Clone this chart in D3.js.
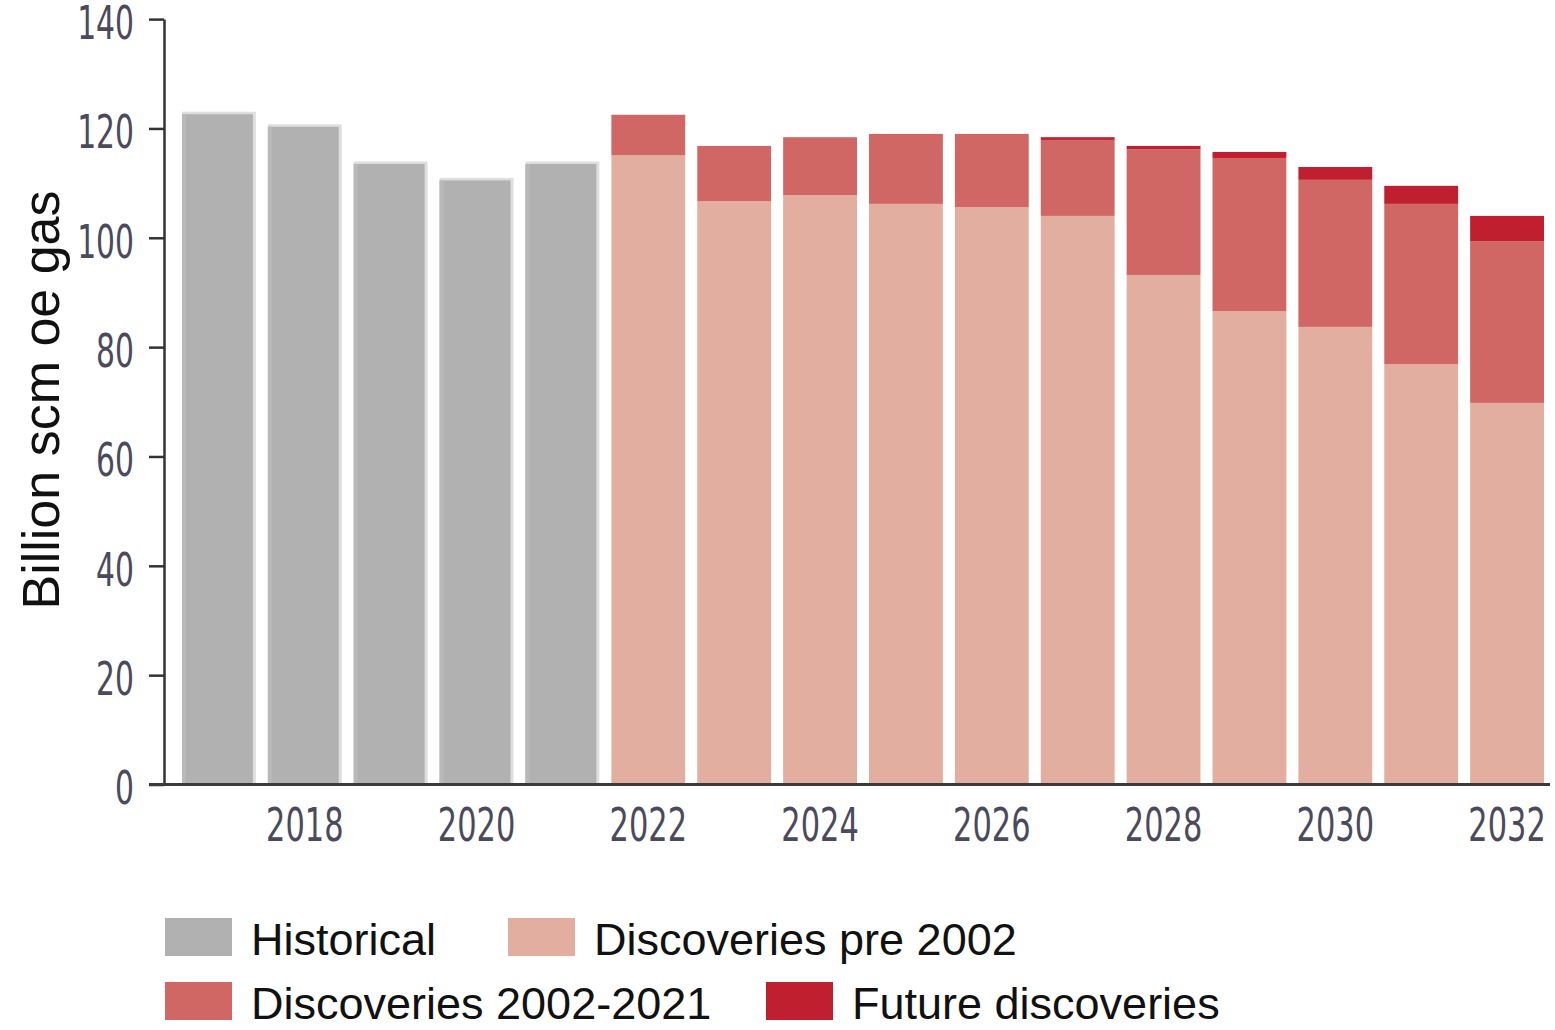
<!DOCTYPE html>
<html>
<head>
<meta charset="utf-8">
<script src="https://cdn.jsdelivr.net/npm/d3@7"></script>
<style>
  body { margin: 0; background: #fff; }
  svg { display: block; }
  .tick-label { font-family: "Liberation Sans Narrow", "DejaVu Sans Condensed", "Liberation Sans", sans-serif; fill: #4a4a5c; }
</style>
</head>
<body>
<div id="chart"></div>
<script>
// Historische Produktion (grau) und Prognose nach Fundzeitraum (gestapelt)
const histYears = [2017, 2018, 2019, 2020, 2021];
const histValues = [122.6, 120.3, 113.5, 110.5, 113.5];

const fcYears = [2022, 2023, 2024, 2025, 2026, 2027, 2028, 2029, 2030, 2031, 2032];
const prePre2002 = [115.1, 106.7, 107.8, 106.2, 105.6, 104.0, 93.2, 86.6, 83.7, 76.9, 69.8];
const disc2002to2021 = [7.4, 10.1, 10.6, 12.8, 13.4, 13.9, 23.0, 28.0, 26.9, 29.3, 29.6];
const futureDisc = [0, 0, 0, 0, 0, 0.5, 0.6, 1.1, 2.35, 3.3, 4.6];

const yTicks = [0, 20, 40, 60, 80, 100, 120, 140];
const xTickYears = [2018, 2020, 2022, 2024, 2026, 2028, 2030, 2032];

const seriesKeys = ["pre", "mid", "future"];
const seriesColors = { hist: "#b1b1b1", pre: "#e2aea0", mid: "#d06765", future: "#c01f30" };
const legendItems = [
  { key: "hist", label: "Historical" },
  { key: "pre", label: "Discoveries pre 2002" },
  { key: "mid", label: "Discoveries 2002-2021" },
  { key: "future", label: "Future discoveries" }
];

const W = 1555, H = 1030;
const AXIS_X = 164;
const ZERO_Y = 784.5;
const NARROW = 0.72;   // horizontale Stauchung der Achsenbeschriftung (Condensed-Look)

const svg = d3.select("#chart").append("svg")
  .attr("width", W)
  .attr("height", H)
  .attr("viewBox", `0 0 ${W} ${H}`);

const allYears = histYears.concat(fcYears);

const x = d3.scaleBand()
  .domain(allYears)
  .range([176, 1550])
  .paddingInner(0.14)
  .paddingOuter(0.07);

const y = d3.scaleLinear()
  .domain([0, 140])
  .range([ZERO_Y, 19.1]);

// Historische Balken mit hellem Rand oben/rechts
const histData = histYears.map((yr, i) => ({ year: yr, value: histValues[i] }));
const histG = svg.append("g");
histG.selectAll("rect.edge")
  .data(histData)
  .join("rect")
  .attr("class", "edge")
  .attr("x", d => x(d.year))
  .attr("y", d => y(d.value) - 2.5)
  .attr("width", x.bandwidth())
  .attr("height", d => ZERO_Y - y(d.value) + 2.5)
  .attr("fill", "#dedede");
histG.selectAll("rect.bar")
  .data(histData)
  .join("rect")
  .attr("class", "bar")
  .attr("x", d => x(d.year))
  .attr("y", d => y(d.value))
  .attr("width", x.bandwidth() - 3)
  .attr("height", d => ZERO_Y - y(d.value))
  .attr("fill", seriesColors.hist);
histG.selectAll("rect.left")
  .data(histData)
  .join("rect")
  .attr("class", "left")
  .attr("x", d => x(d.year))
  .attr("y", d => y(d.value))
  .attr("width", 4)
  .attr("height", d => ZERO_Y - y(d.value))
  .attr("fill", "#b9b9b9");

// Prognose, gestapelt
const fcTable = fcYears.map((yr, i) => ({
  year: yr, pre: prePre2002[i], mid: disc2002to2021[i], future: futureDisc[i]
}));
const stacked = d3.stack().keys(seriesKeys)(fcTable);

svg.append("g")
  .selectAll("g")
  .data(stacked)
  .join("g")
  .attr("fill", s => seriesColors[s.key])
  .selectAll("rect")
  .data(s => s)
  .join("rect")
  .attr("x", d => x(d.data.year))
  .attr("y", d => y(d[1]))
  .attr("width", x.bandwidth())
  .attr("height", d => Math.max(0, y(d[0]) - y(d[1])));

// Y-Achse
const yAxis = svg.append("g")
  .attr("transform", `translate(${AXIS_X},0)`)
  .call(d3.axisLeft(y).tickValues(yTicks).tickSize(15).tickSizeOuter(0).tickPadding(15));
yAxis.select(".domain").attr("stroke", "#333").attr("stroke-width", 2.5);
yAxis.selectAll(".tick line").attr("stroke", "#333").attr("stroke-width", 2.5);
yAxis.selectAll(".tick text")
  .attr("class", "tick-label")
  .attr("font-size", 46)
  .attr("x", -30 / NARROW)
  .attr("dy", "0.42em")
  .attr("transform", `scale(${NARROW},1)`);

// X-Achse (Linie geht bis zum linken Tick)
svg.append("line")
  .attr("x1", 149).attr("x2", 1550)
  .attr("y1", ZERO_Y).attr("y2", ZERO_Y)
  .attr("stroke", "#3a3a3a")
  .attr("stroke-width", 3);

const xAxis = svg.append("g")
  .attr("transform", `translate(0,${ZERO_Y})`)
  .call(d3.axisBottom(x).tickValues(xTickYears).tickSize(0).tickFormat(d3.format("d")));
xAxis.select(".domain").remove();
xAxis.selectAll(".tick text")
  .attr("class", "tick-label")
  .attr("font-size", 47)
  .attr("y", 57)
  .attr("dy", 0)
  .attr("transform", `scale(${NARROW},1)`);

// Achsentitel
svg.append("text")
  .attr("transform", "translate(59,400) rotate(-90)")
  .attr("text-anchor", "middle")
  .attr("font-family", "'Liberation Sans', Arial, sans-serif")
  .attr("font-size", 52)
  .attr("fill", "#111")
  .text("Billion scm oe gas");

// Legende
const legendPos = [
  { x: 165, y: 918 },
  { x: 508, y: 918 },
  { x: 165, y: 982 },
  { x: 766, y: 982 }
];
const legend = svg.append("g")
  .selectAll("g")
  .data(legendItems)
  .join("g")
  .attr("transform", (d, i) => `translate(${legendPos[i].x},${legendPos[i].y})`);
legend.append("rect")
  .attr("width", 67)
  .attr("height", 38)
  .attr("fill", d => seriesColors[d.key]);
legend.append("text")
  .attr("x", 86)
  .attr("y", 37)
  .attr("font-family", "'Liberation Sans', Arial, sans-serif")
  .attr("font-size", 45)
  .attr("fill", "#111")
  .text(d => d.label);
</script>
</body>
</html>
